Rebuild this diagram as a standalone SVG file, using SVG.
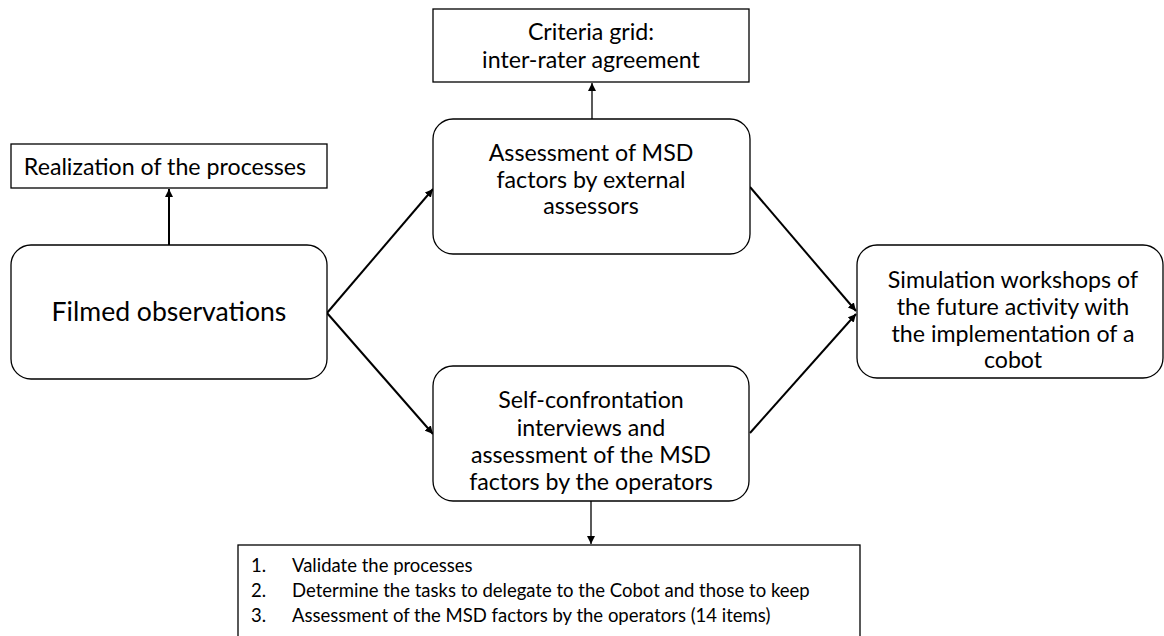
<svg xmlns="http://www.w3.org/2000/svg" width="1164" height="636" viewBox="0 0 1164 636">
<style>
.box{fill:#fff;stroke:#000;stroke-width:1.3}
.t{font-family:Lato,"Liberation Sans",sans-serif;fill:#000;text-anchor:middle;font-size:23.2px}
.big{font-size:26.6px}
.l{font-family:Lato,"Liberation Sans",sans-serif;fill:#000;font-size:18.5px}
.c{stroke:#000;stroke-width:2;fill:none;marker-end:url(#ah)}
.c1{stroke:#000;stroke-width:1.3;fill:none;marker-end:url(#ah)}
</style>
<defs>
<marker id="ah" viewBox="0 0 10 10" refX="10" refY="5" markerWidth="8" markerHeight="8" markerUnits="userSpaceOnUse" orient="auto">
<path d="M0,0 L10,5 L0,10 z" fill="#000"/>
</marker>
</defs>
<rect width="1164" height="636" fill="#fff"/>
<g id="connectors">
<line class="c" x1="169" y1="245" x2="169" y2="189"/>
<line class="c1" x1="592" y1="119" x2="592" y2="83"/>
<line class="c" x1="327" y1="313" x2="433" y2="189"/>
<line class="c" x1="327" y1="313" x2="433" y2="434"/>
<line class="c" x1="750" y1="187" x2="856" y2="311"/>
<line class="c" x1="750" y1="433" x2="856" y2="314"/>
<line class="c1" x1="591" y1="501" x2="591" y2="544"/>
</g>
<g id="realization">
<rect class="box" x="11" y="144" width="316" height="44"/>
<text class="t" x="165" y="175">Realization of the processes</text>
</g>
<g id="criteria">
<rect class="box" x="433" y="9" width="316" height="73"/>
<text class="t" x="591" y="40">Criteria grid:</text>
<text class="t" x="591" y="68">inter-rater agreement</text>
</g>
<g id="filmed">
<rect class="box" x="11" y="245" width="316" height="134" rx="20"/>
<text class="t big" x="169" y="321">Filmed observations</text>
</g>
<g id="assessment">
<rect class="box" x="433" y="119" width="317" height="135" rx="20"/>
<text class="t" x="591" y="161">Assessment of MSD</text>
<text class="t" x="591" y="188">factors by external</text>
<text class="t" x="591" y="214">assessors</text>
</g>
<g id="selfconfrontation">
<rect class="box" x="433" y="366" width="316" height="135" rx="20"/>
<text class="t" x="591" y="408">Self-confrontation</text>
<text class="t" x="591" y="436">interviews and</text>
<text class="t" x="591" y="463">assessment of the MSD</text>
<text class="t" x="591" y="490">factors by the operators</text>
</g>
<g id="simulation">
<rect class="box" x="857" y="245" width="306" height="133" rx="20"/>
<text class="t" x="1013" y="288">Simulation workshops of</text>
<text class="t" x="1013" y="315">the future activity with</text>
<text class="t" x="1013" y="342">the implementation of a</text>
<text class="t" x="1013" y="368">cobot</text>
</g>
<g id="outcomes">
<rect class="box" x="238" y="545" width="622" height="110"/>
<text class="l" x="251" y="572">1.</text>
<text class="l" x="292" y="572">Validate the processes</text>
<text class="l" x="251" y="597">2.</text>
<text class="l" x="292" y="597">Determine the tasks to delegate to the Cobot and those to keep</text>
<text class="l" x="251" y="622">3.</text>
<text class="l" x="292" y="622">Assessment of the MSD factors by the operators (14 items)</text>
</g>
</svg>
